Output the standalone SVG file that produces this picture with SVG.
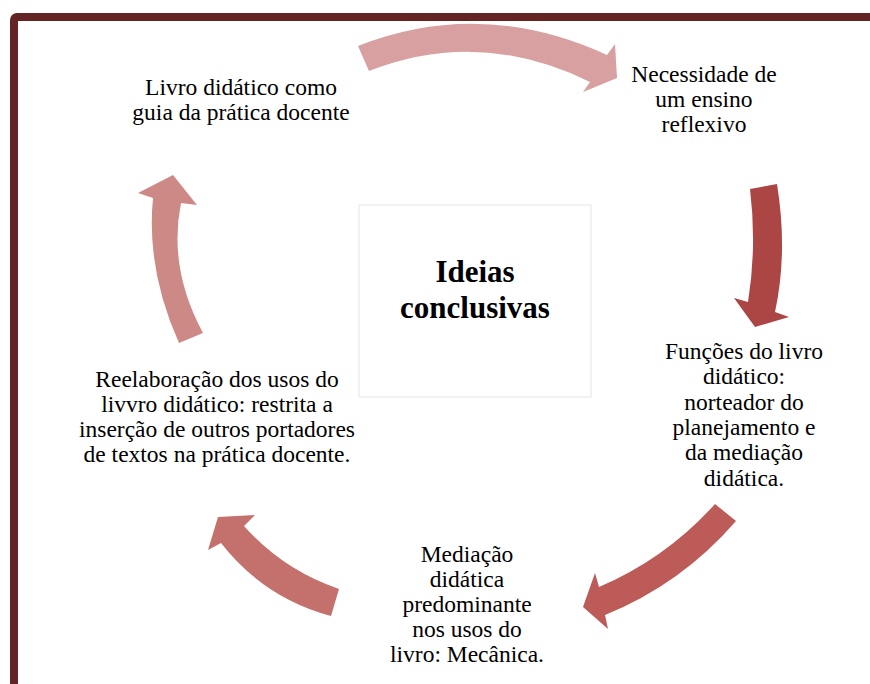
<svg xmlns="http://www.w3.org/2000/svg" width="870" height="684" viewBox="0 0 870 684">
<style>
.lbl{font-family:"Liberation Serif","Times New Roman",serif;font-size:23.5px;fill:#000;text-anchor:middle}
.ttl{font-family:"Liberation Serif","Times New Roman",serif;font-size:31px;font-weight:bold;fill:#000;text-anchor:middle}
</style>
<rect x="0" y="0" width="870" height="684" fill="#fff"/>
<rect id="frame" x="14" y="17" width="900" height="700" rx="3" fill="none" stroke="#632423" stroke-width="8"/>
<g id="connectors">
<path d="M358,46 Q481.5,-2.5 607,55 L615,44 L617,78 L583,92 L590,82 Q479.5,27.5 369,71 Z" fill="#d8a0a0"/>
<path d="M777,184 Q788,252 775,312 L789,317 L755,327 L734,298 L748,302 Q757,246.5 750,189 Z" fill="#ab4644"/>
<path d="M736,521 Q681.5,584 605,615 L608,629 L583,607 L595,573 L599,587 Q666,558.5 715,504 Z" fill="#bc5b57"/>
<path d="M331,616 Q264,598 221,543 L208,550 L218,517 L255,515 L244,526 Q283,570 339,589 Z" fill="#c4716d"/>
<path d="M203,333 Q168,268 181,203 L197,205 L173,175 L138,193 L153,198 Q146,269.5 179,343 Z" fill="#cc8986"/>
</g>
<g id="center">
<rect x="359" y="205" width="232" height="192" fill="#fff" stroke="#eeeeee" stroke-width="1.5"/>
<text class="ttl" x="475" y="282">Ideias</text>
<text class="ttl" x="475" y="318">conclusivas</text>
</g>
<g id="node1">
<text class="lbl" x="241" y="95">Livro didático como</text>
<text class="lbl" x="241" y="120">guia da prática docente</text>
</g>
<g id="node2">
<text class="lbl" x="704" y="82">Necessidade de</text>
<text class="lbl" x="704" y="107">um ensino</text>
<text class="lbl" x="704" y="132">reflexivo</text>
</g>
<g id="node3">
<text class="lbl" x="744" y="359">Funções do livro</text>
<text class="lbl" x="744" y="384">didático:</text>
<text class="lbl" x="744" y="410">norteador do</text>
<text class="lbl" x="744" y="435">planejamento e</text>
<text class="lbl" x="744" y="460">da mediação</text>
<text class="lbl" x="744" y="486">didática.</text>
</g>
<g id="node4">
<text class="lbl" x="467" y="562">Mediação</text>
<text class="lbl" x="467" y="587">didática</text>
<text class="lbl" x="467" y="612">predominante</text>
<text class="lbl" x="467" y="637">nos usos do</text>
<text class="lbl" x="467" y="662">livro: Mecânica.</text>
</g>
<g id="node5">
<text class="lbl" x="217" y="387">Reelaboração dos usos do</text>
<text class="lbl" x="217" y="412">livvro didático: restrita a</text>
<text class="lbl" x="217" y="437">inserção de outros portadores</text>
<text class="lbl" x="217" y="462">de textos na prática docente.</text>
</g>
</svg>
